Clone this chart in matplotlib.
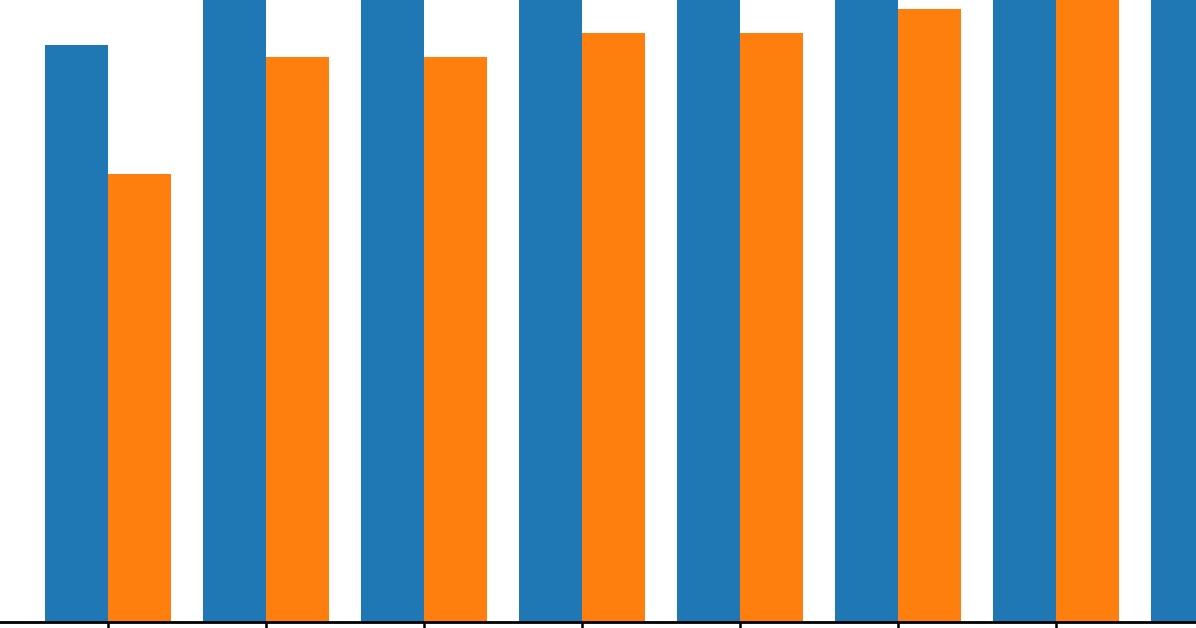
import matplotlib
matplotlib.use("Agg")
import matplotlib.pyplot as plt
import numpy as np

# group positions and bar heights (top is clipped at 100)
groups = np.arange(8)
blue_vals = [92.8, 105, 105, 105, 105, 105, 105, 105]
orange_vals = [72.0, 90.8, 90.8, 94.7, 94.7, 98.6, 101, 0]

width = 0.4

fig = plt.figure(figsize=(11.96, 6.28), dpi=100)
ax = fig.add_axes([0, 6.5 / 628, 1, 621.5 / 628])

ax.bar(groups - width / 2, blue_vals, width, color="#1f77b4")
ax.bar(groups + width / 2, orange_vals, width, color="#ff7f0e")

ax.set_xticks(groups)
ax.set_xticklabels([])
ax.set_yticks([])
# limits after the ticks, otherwise set_xticks widens the view
ax.set_xlim(-108 / 158, (1196 - 108) / 158)
ax.set_ylim(0, 100)
ax.tick_params(axis="x", length=7, width=1.8, color="black")

for side in ["top", "left", "right"]:
    ax.spines[side].set_visible(False)
ax.spines["bottom"].set_linewidth(2)

fig.savefig("out.png", dpi=100)
